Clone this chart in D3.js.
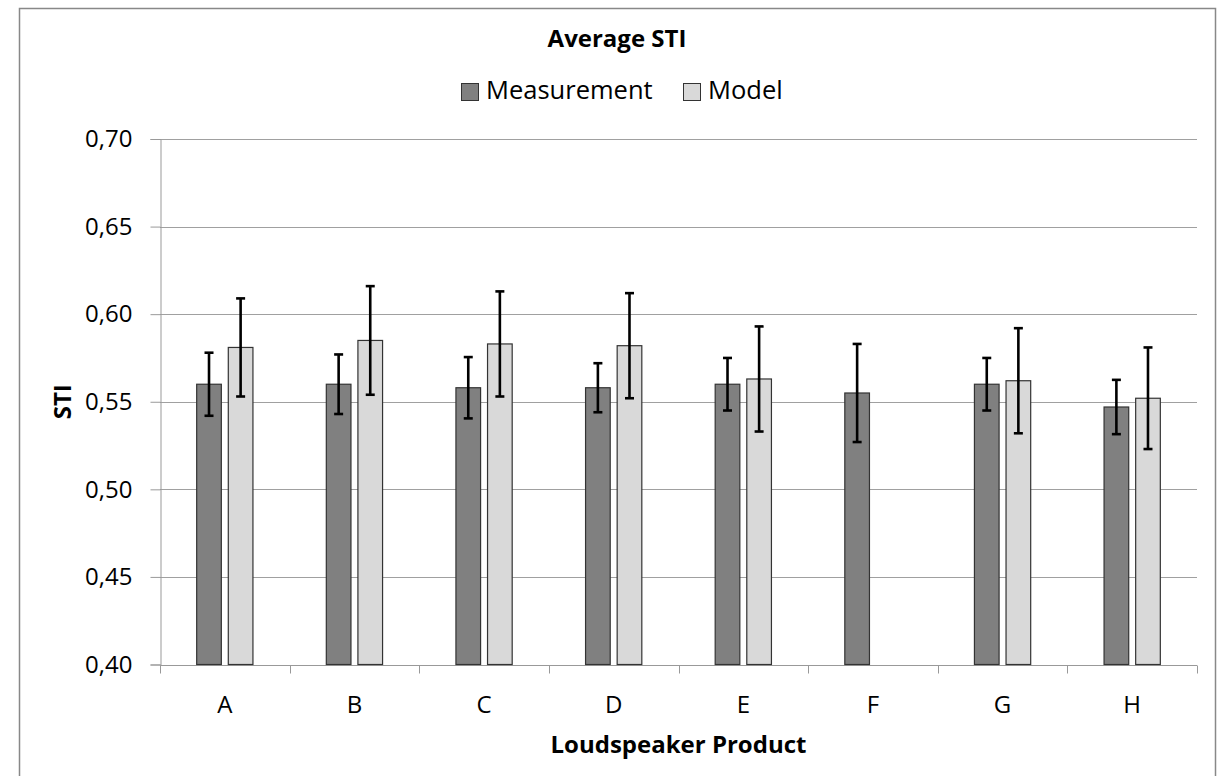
<!DOCTYPE html>
<html lang="en">
<head>
<meta charset="utf-8">
<title>Average STI</title>
<script src="https://d3js.org/d3.v7.min.js"></script>
<style>
  body { margin: 0; background: #fff; }
  text { font-family: 'Open Sans', sans-serif; fill: #000; }
  .bold { font-weight: 700; }
</style>
</head>
<body>
<div id="chart"></div>
<script>
// data
var categories = ["A", "B", "C", "D", "E", "F", "G", "H"];
var seriesNames = ["Measurement", "Model"];
var measurement = [0.560, 0.560, 0.558, 0.558, 0.560, 0.555, 0.560, 0.547];
var measurementErr = [0.018, 0.017, 0.0175, 0.014, 0.015, 0.028, 0.015, 0.0155];
var model = [0.581, 0.585, 0.583, 0.582, 0.563, null, 0.562, 0.552];
var modelErr = [0.028, 0.031, 0.030, 0.030, 0.030, null, 0.030, 0.029];
var yTicks = [0.40, 0.45, 0.50, 0.55, 0.60, 0.65, 0.70];

var width = 1220, height = 776;
var plot = {left: 160, right: 1197, top: 139, bottom: 664.5};
var colors = {Measurement: "#808080", Model: "#d9d9d9"};

var svg = d3.select("#chart").append("svg")
  .attr("width", width)
  .attr("height", height);

// chart frame
svg.append("rect")
  .attr("x", 19.5).attr("y", 8.5)
  .attr("width", 1196).attr("height", 780)
  .attr("fill", "#fff")
  .attr("stroke", "#888").attr("stroke-width", 1.5);

var x = d3.scaleBand()
  .domain(categories)
  .range([plot.left, plot.right])
  .padding(0);

var bw = x.bandwidth();
var xInner = d3.scaleBand()
  .domain(seriesNames)
  .range([bw * 0.283, bw * 0.717])
  .paddingInner(0.22);

var y = d3.scaleLinear()
  .domain([0.40, 0.70])
  .range([plot.bottom, plot.top]);

var locale = d3.formatLocale({decimal: ",", thousands: ".", grouping: [3], currency: ["", ""]});
var fmt = locale.format(".2f");

// gridlines
svg.append("g")
  .selectAll("line")
  .data(yTicks.slice(1))
  .join("line")
    .attr("x1", plot.left).attr("x2", plot.right)
    .attr("y1", d => Math.round(y(d)) + 0.5)
    .attr("y2", d => Math.round(y(d)) + 0.5)
    .attr("stroke", "#a0a0a0").attr("stroke-width", 1);

// y axis
var yAxis = svg.append("g")
  .attr("transform", "translate(" + (plot.left + 0.5) + ",0)")
  .call(d3.axisLeft(y).tickValues(yTicks).tickFormat(fmt).tickSize(10).tickPadding(18));
yAxis.select(".domain").attr("stroke", "#999");
yAxis.selectAll(".tick line").attr("stroke", "#999");
yAxis.selectAll(".tick text")
  .style("font-size", "24px")
  .style("font-family", "'Open Sans', sans-serif")
  .attr("fill", "#000");

// x axis: ticks between categories
var xAxis = svg.append("g")
  .attr("transform", "translate(0," + (Math.round(plot.bottom) + 0.5) + ")");
xAxis.append("line")
  .attr("x1", plot.left).attr("x2", plot.right)
  .attr("stroke", "#999");
xAxis.selectAll("line.sep")
  .data(categories.concat(["end"]))
  .join("line")
    .attr("class", "sep")
    .attr("x1", (d, i) => Math.round(plot.left + i * bw) + 0.5)
    .attr("x2", (d, i) => Math.round(plot.left + i * bw) + 0.5)
    .attr("y1", 0).attr("y2", 8)
    .attr("stroke", "#999");
xAxis.selectAll("text")
  .data(categories)
  .join("text")
    .attr("x", d => x(d) + bw / 2)
    .attr("y", 47)
    .attr("text-anchor", "middle")
    .style("font-size", "24px")
    .text(d => d);

// bars
var rows = categories.map(function(c, i) {
  return [
    {cat: c, series: "Measurement", value: measurement[i], err: measurementErr[i]},
    {cat: c, series: "Model", value: model[i], err: modelErr[i]}
  ];
}).flat().filter(d => d.value != null);

var bars = svg.append("g");
bars.selectAll("rect")
  .data(rows)
  .join("rect")
    .attr("x", d => x(d.cat) + xInner(d.series))
    .attr("y", d => y(d.value))
    .attr("width", xInner.bandwidth())
    .attr("height", d => y(0.40) - y(d.value))
    .attr("fill", d => colors[d.series])
    .attr("stroke", "#333")
    .attr("stroke-width", 1.2);

// error bars
var errs = svg.append("g").attr("stroke", "#000").attr("stroke-width", 2.6);
rows.forEach(function(d) {
  var cx = x(d.cat) + xInner(d.series) + xInner.bandwidth() / 2;
  errs.append("line")
    .attr("x1", cx).attr("x2", cx)
    .attr("y1", y(d.value + d.err)).attr("y2", y(d.value - d.err));
  [d.value + d.err, d.value - d.err].forEach(function(v) {
    errs.append("line")
      .attr("x1", cx - 4.5).attr("x2", cx + 4.5)
      .attr("y1", y(v)).attr("y2", y(v));
  });
});

// title
svg.append("text")
  .attr("class", "bold")
  .attr("x", 617).attr("y", 47)
  .attr("text-anchor", "middle")
  .style("font-size", "24px")
  .text("Average STI");

// legend
var legend = svg.append("g").attr("transform", "translate(461,83)");
var legendX = [0, 222];
seriesNames.forEach(function(s, i) {
  var g = legend.append("g").attr("transform", "translate(" + legendX[i] + ",0)");
  g.append("rect")
    .attr("x", 0.5).attr("y", 0.5)
    .attr("width", 17).attr("height", 17)
    .attr("fill", colors[s])
    .attr("stroke", "#333");
  g.append("text")
    .attr("x", 25).attr("y", 16)
    .style("font-size", "25.5px")
    .text(s);
});

// axis titles
svg.append("text")
  .attr("class", "bold")
  .attr("transform", "translate(71," + ((plot.top + plot.bottom) / 2) + ") rotate(-90)")
  .attr("text-anchor", "middle")
  .style("font-size", "24px")
  .text("STI");

svg.append("text")
  .attr("class", "bold")
  .attr("x", (plot.left + plot.right) / 2)
  .attr("y", 753)
  .attr("text-anchor", "middle")
  .style("font-size", "24px")
  .text("Loudspeaker Product");
</script>
</body>
</html>
